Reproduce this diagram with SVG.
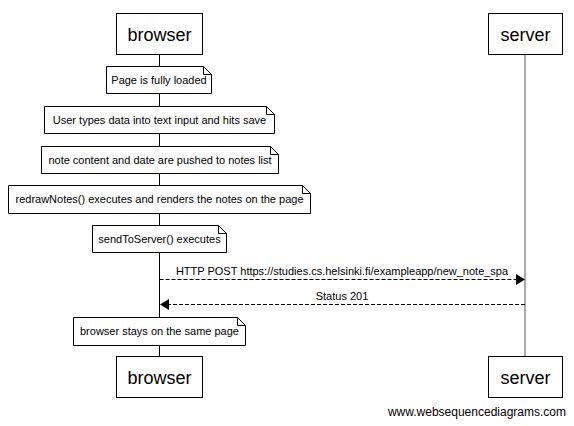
<svg xmlns="http://www.w3.org/2000/svg" width="574" height="426" viewBox="0 0 574 426">
<style>
.box{fill:#fff;stroke:#000;stroke-width:1}
.life{stroke:#000;stroke-width:1;fill:none}
.pt{font-family:"Liberation Sans",Arial,sans-serif;font-size:18px;text-anchor:middle;fill:#000}
.nt{font-family:"Liberation Sans",Arial,sans-serif;font-size:11px;text-anchor:middle;fill:#000}
.note{fill:#fff;stroke:#000;stroke-width:1}
.msg{stroke:#000;stroke-width:1;stroke-dasharray:4,2;fill:none}
</style>
<defs>
<marker id="ah" viewBox="0 0 10 12" refX="10" refY="6" markerWidth="9" markerHeight="12" markerUnits="userSpaceOnUse" orient="auto">
<path d="M0,0 L10,6 L0,12 Z" fill="#000"/>
</marker>
</defs>
<rect width="574" height="426" fill="#fff"/>
<g id="lifelines">
<line class="life" x1="159.5" y1="54" x2="159.5" y2="357"/>
<line class="life" x1="525" y1="54" x2="525" y2="357" stroke="#555" style="stroke:#555"/>
</g>
<g id="browser-top"><rect class="box" x="116.5" y="13.5" width="86" height="41"/><text class="pt" x="159.5" y="40.5">browser</text></g>
<g id="server-top"><rect class="box" x="488.5" y="13.5" width="74" height="41"/><text class="pt" x="525.5" y="40.5">server</text></g>
<g id="browser-bottom"><rect class="box" x="116.5" y="356.5" width="86" height="41"/><text class="pt" x="159.5" y="383.5">browser</text></g>
<g id="server-bottom"><rect class="box" x="488.5" y="356.5" width="74" height="41"/><text class="pt" x="525.5" y="383.5">server</text></g>
<g id="note1"><path class="note" d="M106.5,66.5 H203.5 L211.5,74.5 V93.5 H106.5 Z M203.5,66.5 V74.5 H211.5"/><text class="nt" x="159" y="83.5">Page is fully loaded</text></g>
<g id="note2"><path class="note" d="M44.5,106.5 H266.5 L274.5,114.5 V133.5 H44.5 Z M266.5,106.5 V114.5 H274.5"/><text class="nt" x="159.5" y="123.5">User types data into text input and hits save</text></g>
<g id="note3"><path class="note" d="M41.5,146.5 H270.5 L278.5,154.5 V173.5 H41.5 Z M270.5,146.5 V154.5 H278.5"/><text class="nt" x="160" y="163.5">note content and date are pushed to notes list</text></g>
<g id="note4"><path class="note" d="M8.5,185.5 H302.5 L310.5,193.5 V213.5 H8.5 Z M302.5,185.5 V193.5 H310.5"/><text class="nt" x="159.5" y="203">redrawNotes() executes and renders the notes on the page</text></g>
<g id="note5"><path class="note" d="M92.5,225.5 H218.5 L226.5,233.5 V252.5 H92.5 Z M218.5,225.5 V233.5 H226.5"/><text class="nt" x="159.5" y="242.5">sendToServer() executes</text></g>
<g id="note6"><path class="note" d="M73.5,317.5 H237.5 L245.5,325.5 V345.5 H73.5 Z M237.5,317.5 V325.5 H245.5"/><text class="nt" x="159.5" y="335">browser stays on the same page</text></g>
<g id="connectors">
<line class="msg" x1="159.5" y1="279.5" x2="525" y2="279.5" marker-end="url(#ah)"/>
<text class="nt" x="342" y="275">HTTP POST https://studies.cs.helsinki.fi/exampleapp/new_note_spa</text>
<line class="msg" x1="525" y1="304.5" x2="160" y2="304.5" marker-end="url(#ah)"/>
<text class="nt" x="342" y="300">Status 201</text>
</g>
<text x="566" y="416" font-family="'Liberation Sans',Arial,sans-serif" font-size="12" text-anchor="end" fill="#000">www.websequencediagrams.com</text>
</svg>
